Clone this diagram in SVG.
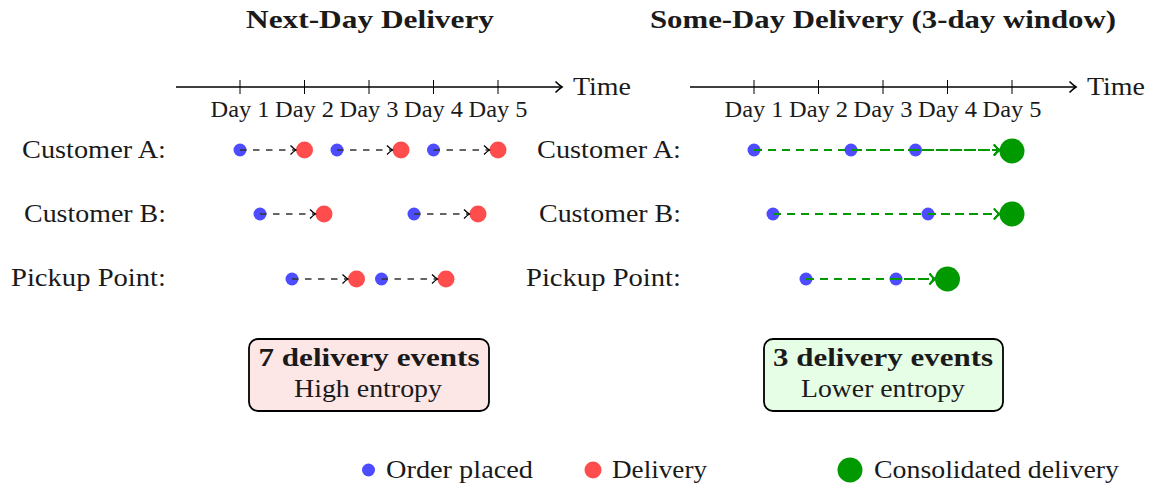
<svg xmlns="http://www.w3.org/2000/svg" width="1149" height="487" viewBox="0 0 1149 487">
<style>
text{font-family:"Liberation Serif","DejaVu Serif",serif;font-size:25px;fill:#1a1a1a}
.b{font-weight:bold}
.m{text-anchor:middle}
.e{text-anchor:end}
.t{font-size:22.5px}
.axis{stroke:#000;stroke-width:1.6;fill:none}
.tick{stroke:#000;stroke-width:1}
.blue{fill:#4d4dff}
.red{fill:#ff4d4d}
.green{fill:#009900}
.dk{stroke:#333;stroke-width:1.3;stroke-dasharray:6.5 6.5;fill:none}
.gr{stroke:#009900;stroke-width:2.2;stroke-dasharray:8 6;fill:none}
.box{stroke:#000;stroke-width:1.8}
</style>
<defs>
<marker id="ak" markerWidth="12" markerHeight="12" refX="10" refY="6" orient="auto" markerUnits="userSpaceOnUse">
<path d="M4.5,1.5 Q8,5 10,6 Q8,7 4.5,10.5" fill="none" stroke="#000" stroke-width="1.3"/>
</marker>
<marker id="ag" markerWidth="12" markerHeight="14" refX="10" refY="7" orient="auto" markerUnits="userSpaceOnUse">
<path d="M4.5,1.5 Q8,6 10,7 Q8,8 4.5,12.5" fill="none" stroke="#009900" stroke-width="2"/>
</marker>
<marker id="ax" markerWidth="14" markerHeight="14" refX="11" refY="7" orient="auto" markerUnits="userSpaceOnUse">
<path d="M4.5,1.5 Q8.5,5.5 11,7 Q8.5,8.5 4.5,12.5" fill="none" stroke="#000" stroke-width="1.6"/>
</marker>
</defs>

<g id="titles">
<text class="b m" x="370" y="28" textLength="248" lengthAdjust="spacingAndGlyphs">Next-Day Delivery</text>
<text class="b m" x="883" y="28" textLength="466" lengthAdjust="spacingAndGlyphs">Some-Day Delivery (3-day window)</text>
</g>

<g id="axis-left">
<line class="axis" x1="176" y1="87" x2="562" y2="87" marker-end="url(#ax)"/>
<path class="tick" d="M240,80V94M304.5,80V94M369,80V94M433.5,80V94M498,80V94"/>
<text x="573" y="95" textLength="58" lengthAdjust="spacingAndGlyphs">Time</text>
<text class="m t" x="240" y="117" textLength="59" lengthAdjust="spacingAndGlyphs">Day 1</text>
<text class="m t" x="304.5" y="117" textLength="59" lengthAdjust="spacingAndGlyphs">Day 2</text>
<text class="m t" x="369" y="117" textLength="59" lengthAdjust="spacingAndGlyphs">Day 3</text>
<text class="m t" x="433.5" y="117" textLength="59" lengthAdjust="spacingAndGlyphs">Day 4</text>
<text class="m t" x="498" y="117" textLength="59" lengthAdjust="spacingAndGlyphs">Day 5</text>
</g>

<g id="axis-right">
<line class="axis" x1="690" y1="87" x2="1076" y2="87" marker-end="url(#ax)"/>
<path class="tick" d="M754,80V94M818.5,80V94M883,80V94M947.5,80V94M1012,80V94"/>
<text x="1087" y="95" textLength="58" lengthAdjust="spacingAndGlyphs">Time</text>
<text class="m t" x="754" y="117" textLength="59" lengthAdjust="spacingAndGlyphs">Day 1</text>
<text class="m t" x="818.5" y="117" textLength="59" lengthAdjust="spacingAndGlyphs">Day 2</text>
<text class="m t" x="883" y="117" textLength="59" lengthAdjust="spacingAndGlyphs">Day 3</text>
<text class="m t" x="947.5" y="117" textLength="59" lengthAdjust="spacingAndGlyphs">Day 4</text>
<text class="m t" x="1012" y="117" textLength="59" lengthAdjust="spacingAndGlyphs">Day 5</text>
</g>

<g id="labels-left">
<text class="e" x="166" y="158" textLength="144" lengthAdjust="spacingAndGlyphs">Customer A:</text>
<text class="e" x="166" y="222" textLength="142" lengthAdjust="spacingAndGlyphs">Customer B:</text>
<text class="e" x="166" y="286" textLength="155" lengthAdjust="spacingAndGlyphs">Pickup Point:</text>
</g>
<g id="labels-right">
<text class="e" x="681" y="158" textLength="144" lengthAdjust="spacingAndGlyphs">Customer A:</text>
<text class="e" x="681" y="222" textLength="142" lengthAdjust="spacingAndGlyphs">Customer B:</text>
<text class="e" x="681" y="286" textLength="155" lengthAdjust="spacingAndGlyphs">Pickup Point:</text>
</g>

<g id="nodes-left">
<circle class="blue" cx="240" cy="150" r="6.5"/>
<circle class="red" cx="304.5" cy="150" r="8.5"/>
<circle class="blue" cx="337" cy="150" r="6.5"/>
<circle class="red" cx="401" cy="150" r="8.5"/>
<circle class="blue" cx="433.5" cy="150" r="6.5"/>
<circle class="red" cx="498" cy="150" r="8.5"/>
<circle class="blue" cx="260" cy="214" r="6.5"/>
<circle class="red" cx="324" cy="214" r="8.5"/>
<circle class="blue" cx="414" cy="214" r="6.5"/>
<circle class="red" cx="478" cy="214" r="8.5"/>
<circle class="blue" cx="292" cy="279" r="6.5"/>
<circle class="red" cx="356.5" cy="279" r="8.5"/>
<circle class="blue" cx="381.5" cy="279" r="6.5"/>
<circle class="red" cx="446" cy="279" r="8.5"/>
</g>

<g id="nodes-right">
<circle class="blue" cx="754" cy="150" r="6.5"/>
<circle class="blue" cx="851" cy="150" r="6.5"/>
<circle class="blue" cx="915.5" cy="150" r="6.5"/>
<circle class="green" cx="1012" cy="151" r="12.5"/>
<circle class="blue" cx="773" cy="214" r="6.5"/>
<circle class="blue" cx="928" cy="214" r="6.5"/>
<circle class="green" cx="1012" cy="214" r="12.5"/>
<circle class="blue" cx="806" cy="279" r="6.5"/>
<circle class="blue" cx="896" cy="279" r="6.5"/>
<circle class="green" cx="947.5" cy="279" r="12.5"/>
</g>

<g id="connectors">
<line class="dk" x1="240" y1="150" x2="296" y2="150" marker-end="url(#ak)"/>
<line class="dk" x1="337" y1="150" x2="392.5" y2="150" marker-end="url(#ak)"/>
<line class="dk" x1="433.5" y1="150" x2="489.5" y2="150" marker-end="url(#ak)"/>
<line class="dk" x1="260" y1="214" x2="315.5" y2="214" marker-end="url(#ak)"/>
<line class="dk" x1="414" y1="214" x2="469.5" y2="214" marker-end="url(#ak)"/>
<line class="dk" x1="292" y1="279" x2="348" y2="279" marker-end="url(#ak)"/>
<line class="dk" x1="381.5" y1="279" x2="437.5" y2="279" marker-end="url(#ak)"/>
<line class="gr" x1="754" y1="150" x2="999.5" y2="150" marker-end="url(#ag)"/>
<line class="gr" x1="851" y1="150" x2="999.5" y2="150" stroke-dashoffset="11" marker-end="url(#ag)"/>
<line class="gr" x1="915.5" y1="150" x2="999.5" y2="150" stroke-dashoffset="3.5" marker-end="url(#ag)"/>
<line class="gr" x1="773" y1="214" x2="999.5" y2="214" marker-end="url(#ag)"/>
<line class="gr" x1="928" y1="214" x2="999.5" y2="214" marker-end="url(#ag)"/>
<line class="gr" x1="806" y1="279" x2="935" y2="279" marker-end="url(#ag)"/>
<line class="gr" x1="896" y1="279" x2="935" y2="279" stroke-dashoffset="3" marker-end="url(#ag)"/>
</g>

<g id="box-left">
<rect class="box" x="249" y="339" width="240" height="72" rx="9" fill="#fde6e6"/>
<text class="b m" x="369" y="366" textLength="221" lengthAdjust="spacingAndGlyphs">7 delivery events</text>
<text class="m" x="368" y="397" textLength="148" lengthAdjust="spacingAndGlyphs">High entropy</text>
</g>
<g id="box-right">
<rect class="box" x="764" y="339" width="239" height="72" rx="9" fill="#e6fde6"/>
<text class="b m" x="883" y="366" textLength="220" lengthAdjust="spacingAndGlyphs">3 delivery events</text>
<text class="m" x="883" y="397" textLength="164" lengthAdjust="spacingAndGlyphs">Lower entropy</text>
</g>

<g id="legend">
<circle class="blue" cx="368.5" cy="470" r="6.5"/>
<text x="386" y="478" textLength="147" lengthAdjust="spacingAndGlyphs">Order placed</text>
<circle class="red" cx="593" cy="470" r="8.5"/>
<text x="612" y="478" textLength="95" lengthAdjust="spacingAndGlyphs">Delivery</text>
<circle class="green" cx="850" cy="470" r="12.5"/>
<text x="874" y="478" textLength="245" lengthAdjust="spacingAndGlyphs">Consolidated delivery</text>
</g>
</svg>
